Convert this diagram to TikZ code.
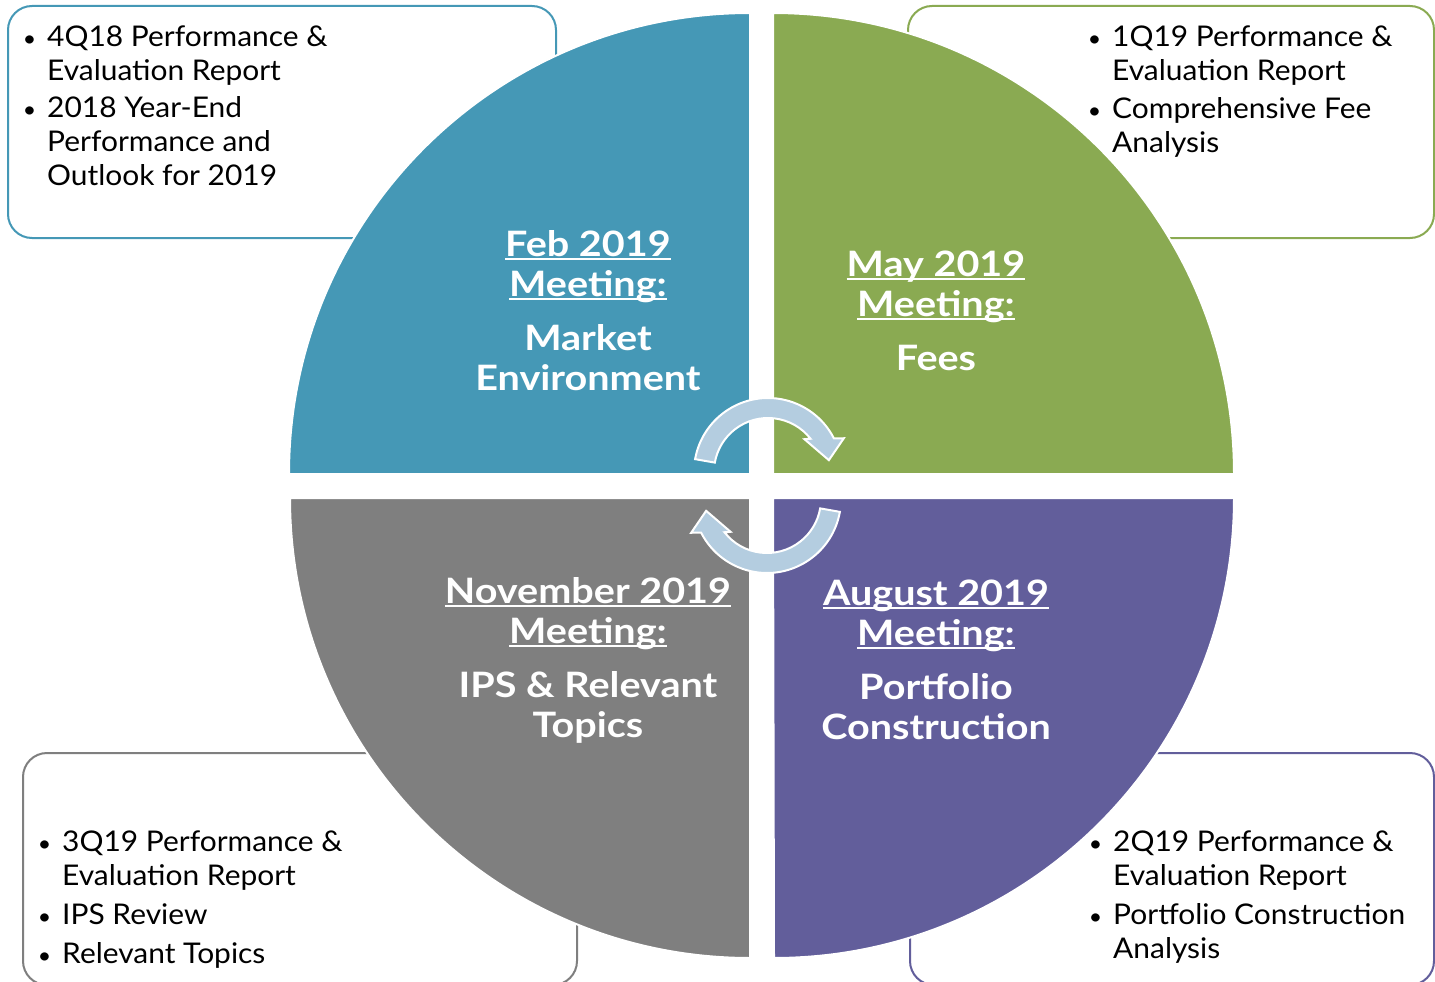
\documentclass[tikz,border=0pt]{standalone}
\usepackage{fontspec}
\setmainfont{Lato}
\newfontfamily\notefont{Lato}[FakeStretch=1.05]
\newfontfamily\titlefont{Lato}[FakeStretch=1.13]
\definecolor{qteal}{HTML}{4598B6}
\definecolor{qgreen}{HTML}{8AAA52}
\definecolor{qgray}{HTML}{7F7F7F}
\definecolor{qpurple}{HTML}{625E9B}
\definecolor{cyclefill}{HTML}{B4CDE0}
% underline at a fixed distance below the baseline
\newcommand{\titleul}[1]{\setbox0\hbox{#1}\rlap{\rule[-3.5pt]{\wd0}{2pt}}\box0}
\newcommand{\bul}{\llap{{\fontsize{22}{34}\selectfont\textbullet}\hspace{11pt}}}
\tikzset{
  notebox/.style={line width=2pt, rounded corners=24pt, fill=white},
  quarter/.style={draw=white, line width=2pt},
  cyclearrow/.style={fill=cyclefill, draw=white, line width=2pt, line join=miter},
  title/.style={text=white, align=center, inner sep=0pt,
    font=\titlefont\fontsize{35}{40}\selectfont\bfseries},
  notes/.style={align=left, anchor=north west, inner sep=0pt,
    font=\notefont\fontsize{28.5}{34}\selectfont}
}
\begin{document}
\begin{tikzpicture}[x=1pt, y=-1pt]
\useasboundingbox (0,0) rectangle (1435,982);
\clip (0,0) rectangle (1435,982);

% side boxes, lying behind the circle
\draw[notebox, draw=qteal]   (8,6) rectangle (556,238);
\draw[notebox, draw=qgreen]  (908,6) rectangle (1434,238);
\draw[notebox, draw=qgray]   (23,753) rectangle (577,985);
\draw[notebox, draw=qpurple] (910,753) rectangle (1434,985);

% the four quarters of the circle
\draw[quarter, fill=qteal]   (750,474) -- (289,474) arc[start angle=180, end angle=270, radius=461] -- cycle;
\draw[quarter, fill=qgreen]  (773,474) -- (773,13) arc[start angle=270, end angle=360, radius=461] -- cycle;
\draw[quarter, fill=qpurple] (773,498) -- (1234,498) arc[start angle=0, end angle=90, radius=460] -- cycle;
\draw[quarter, fill=qgray]   (750,498) -- (750,958) arc[start angle=90, end angle=180, radius=460] -- cycle;

% curved arrows in the middle
\begin{scope}[shift={(768,472)}, yscale=-1]
  \draw[cyclearrow] (170:74) arc[start angle=170, end angle=27, radius=74]
    -- (24:83) -- (11:62) -- (42:49) -- (38:54)
    arc[start angle=38, end angle=170, radius=54] -- cycle;
\end{scope}
\begin{scope}[shift={(767,499)}, yscale=-1, rotate=180]
  \draw[cyclearrow] (170:74) arc[start angle=170, end angle=27, radius=74]
    -- (24:83) -- (11:62) -- (42:49) -- (38:54)
    arc[start angle=38, end angle=170, radius=54] -- cycle;
\end{scope}

% quarter titles
\node[title] (feb) at (588,311) {\titleul{Feb 2019}\\\titleul{Meeting:}\\[14pt]Market\\Environment};
\node[title] (may) at (936,311) {\titleul{May 2019}\\\titleul{Meeting:}\\[14pt]Fees};
\node[title] (aug) at (936,660) {\titleul{August 2019}\\\titleul{Meeting:}\\[14pt]Portfolio\\Construction};
\node[title] (nov) at (588,660) {\titleul{November 2019}\\\titleul{Meeting:}\\[14pt]IPS \& Relevant\\Topics};

% notes in the side boxes
\node[notes] (febnotes) at (47,26) {\bul 4Q18 Performance \&\\Evaluation Report\\[3pt]\bul 2018 Year-End\\Performance and\\Outlook for 2019};
\node[notes] (maynotes) at (1112,26) {\bul 1Q19 Performance \&\\Evaluation Report\\[4pt]\bul Comprehensive Fee\\Analysis};
\node[notes] (novnotes) at (62,831) {\bul 3Q19 Performance \&\\Evaluation Report\\[5pt]\bul IPS Review\\[5pt]\bul Relevant Topics};
\node[notes] (augnotes) at (1113,831) {\bul 2Q19 Performance \&\\Evaluation Report\\[5pt]\bul Portfolio Construction\\Analysis};
\end{tikzpicture}
\end{document}
